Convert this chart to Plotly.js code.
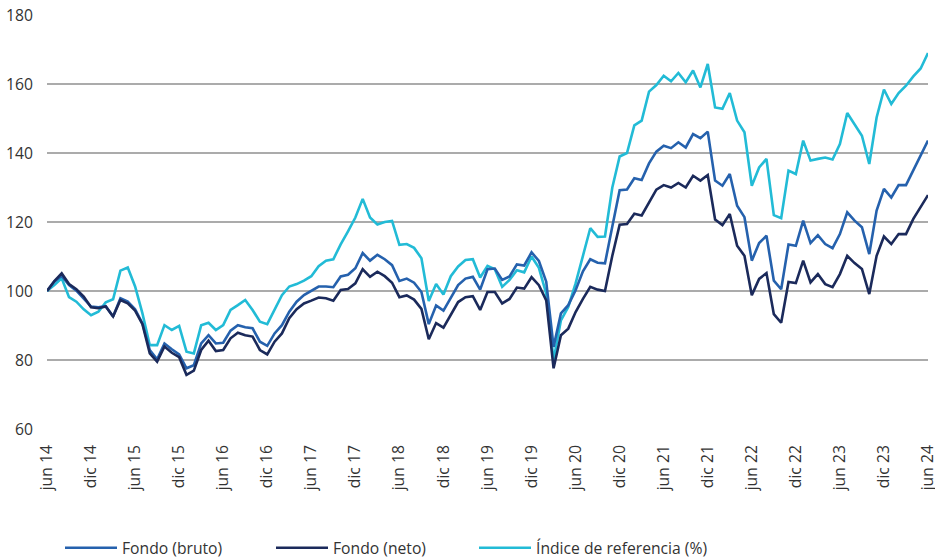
<!DOCTYPE html>
<html>
<head>
<meta charset="utf-8">
<script src="https://cdn.plot.ly/plotly-3.0.1.min.js"></script>
<style>html,body{margin:0;padding:0;background:#fff;}#chart{width:935px;height:559px;}</style>
</head>
<body>
<div id="chart"></div>
<script>
// Month names (Spanish), Jun 2014 .. Jun 2024
const monthNames = ["ene","feb","mar","abr","may","jun","jul","ago","sep","oct","nov","dic"];
const months = [];
for (let k = 0; k <= 120; k++) {
  const m = (5 + k) % 12;
  const y = 14 + Math.floor((5 + k) / 12);
  months.push(monthNames[m] + " " + y);
}
const tickLabels = ["jun 14","dic 14","jun 15","dic 15","jun 16","dic 16","jun 17","dic 17","jun 18","dic 18","jun 19","dic 19","jun 20","dic 20","jun 21","dic 21","jun 22","dic 22","jun 23","dic 23","jun 24"];

const fondoBruto = [
100,102.7,104.4,101.7,100.1,97.9,95.5,95.3,95.6,92.6,97.9,96.9,94.7,90.6,82.9,80.2,84.8,83.1,81.6,77.6,78.5,
84.8,87.2,84.8,85.0,88.5,90.1,89.5,89.2,85.3,84.1,87.7,90.1,94.0,96.9,98.8,100.1,101.3,101.3,101.1,104.2,
104.7,106.6,111.0,108.8,110.5,109.2,107.5,102.9,103.6,102.4,99.7,90.4,95.8,94.3,98.2,101.7,103.6,104.1,100.4,106.3,
106.5,103.2,104.2,107.7,107.4,111.2,108.7,102.7,83.8,93.5,95.9,100.2,105.7,109.2,108.2,108.0,118.7,129.2,129.4,132.7,
132.2,137.0,140.4,142.1,141.4,143.1,141.6,145.5,144.3,146.2,132.0,130.5,133.9,124.7,121.4,108.8,113.9,116.0,103.0,100.5,
113.5,113.1,120.4,113.9,116.2,113.6,112.4,116.5,122.8,120.4,118.5,110.7,123.3,129.6,127.1,130.7,130.7,134.9,139.2,143.6
];
const fondoNeto = [
100,102.9,105.1,102.0,100.5,98.4,95.3,95.0,95.5,92.6,97.4,96.4,94.3,90.4,81.9,79.5,83.9,82.1,80.8,75.7,76.9,
82.9,85.6,82.6,82.9,86.3,87.9,87.2,86.8,82.9,81.6,85.3,87.7,92.1,94.7,96.4,97.2,98.1,97.9,97.2,100.3,
100.6,102.2,106.3,104.1,105.6,104.3,102.4,98.2,98.7,97.5,94.8,86.0,90.7,89.4,93.3,96.8,98.2,98.5,94.5,99.7,
99.7,96.4,97.7,101.0,100.7,104.0,101.7,97.3,77.6,87.2,89.1,93.9,97.7,101.2,100.4,100.0,110.2,119.2,119.4,122.4,
121.9,125.7,129.4,130.7,130.0,131.3,130.0,133.4,132.0,133.6,120.7,119.1,122.3,113.1,110.2,98.8,103.5,105.2,93.3,90.8,
102.6,102.3,108.8,102.5,104.9,102.0,101.1,104.9,110.2,108.1,106.4,99.1,110.2,115.8,113.6,116.5,116.5,120.9,124.3,127.8
];
const indiceReferencia = [
100,101.7,103.7,98.2,96.9,94.7,93.0,94.0,96.7,97.6,105.9,106.8,101.3,93.5,84.3,84.3,90.1,88.7,89.9,82.4,81.9,
90.1,90.8,88.7,90.1,94.5,95.9,97.4,94.5,91.1,90.4,94.5,98.8,101.3,102.0,103.0,104.3,107.2,108.8,109.2,113.5,
117.3,121.3,126.7,121.3,119.3,120.0,120.3,113.4,113.6,112.5,109.5,97.1,102.0,99.0,104.3,107.1,109.0,109.2,103.9,107.3,
106.3,101.2,103.2,106.0,105.4,110.0,106.7,99.2,80.0,91.5,95.4,102.2,110.2,118.2,115.7,115.8,130.0,139.0,140.0,148.0,
149.4,157.8,159.7,162.4,160.8,163.2,160.5,163.9,159.0,165.8,153.2,152.8,157.4,149.4,146.0,130.5,135.8,138.3,122.0,121.1,
134.9,133.9,143.6,137.8,138.3,138.7,138.1,142.6,151.6,148.4,145.0,136.8,150.3,158.4,154.2,157.4,159.5,162.2,164.5,169.0
];

const seriesNames = ["Fondo (bruto)", "Fondo (neto)", "Índice de referencia (%)"];
const seriesColors = ["#2561ad", "#1b2a5b", "#22bbd6"];
const legendIds = ["legend", "legend2", "legend3"];

const traces = [fondoBruto, fondoNeto, indiceReferencia].map((vals, i) => ({
  type: "scatter", mode: "lines", x: months, y: vals, name: seriesNames[i],
  legend: legendIds[i],
  line: {color: seriesColors[i], width: 2.6}
}));
// draw order: index first, then bruto, then neto on top
const data = [traces[2], traces[0], traces[1]];

const FS = 15.7;
function legendAt(xpx) {
  return {orientation: "h", xref: "container", yref: "container", x: xpx / 935, xanchor: "left",
          y: 0.0197, yanchor: "middle", itemwidth: 52, bgcolor: "rgba(0,0,0,0)",
          font: {size: FS, color: "#333"}};
}
const layout = {
  width: 935, height: 559,
  margin: {l: 47, r: 7, t: 15, b: 130, autoexpand: false},
  paper_bgcolor: "#fff", plot_bgcolor: "#fff",
  font: {family: "Open Sans, sans-serif", size: FS, color: "#333"},
  showlegend: true,
  legend: legendAt(60),
  legend2: legendAt(271),
  legend3: legendAt(474),
  xaxis: {type: "category", range: [0, 120], showgrid: false, zeroline: false, showline: false,
          tickmode: "array", tickvals: tickLabels, ticktext: tickLabels, tickangle: -90,
          ticks: "", ticklabelstandoff: 12, tickfont: {size: FS, color: "#333"}, automargin: false},
  yaxis: {range: [60, 180], dtick: 20, tick0: 60, showgrid: true, gridcolor: "#ababab", gridwidth: 1.3,
          zeroline: false, showline: false, ticks: "", ticklabelstandoff: 13, automargin: false,
          tickfont: {size: FS, color: "#333"}}
};
Plotly.newPlot("chart", data, layout, {staticPlot: true, displayModeBar: false});
</script>
</body>
</html>
